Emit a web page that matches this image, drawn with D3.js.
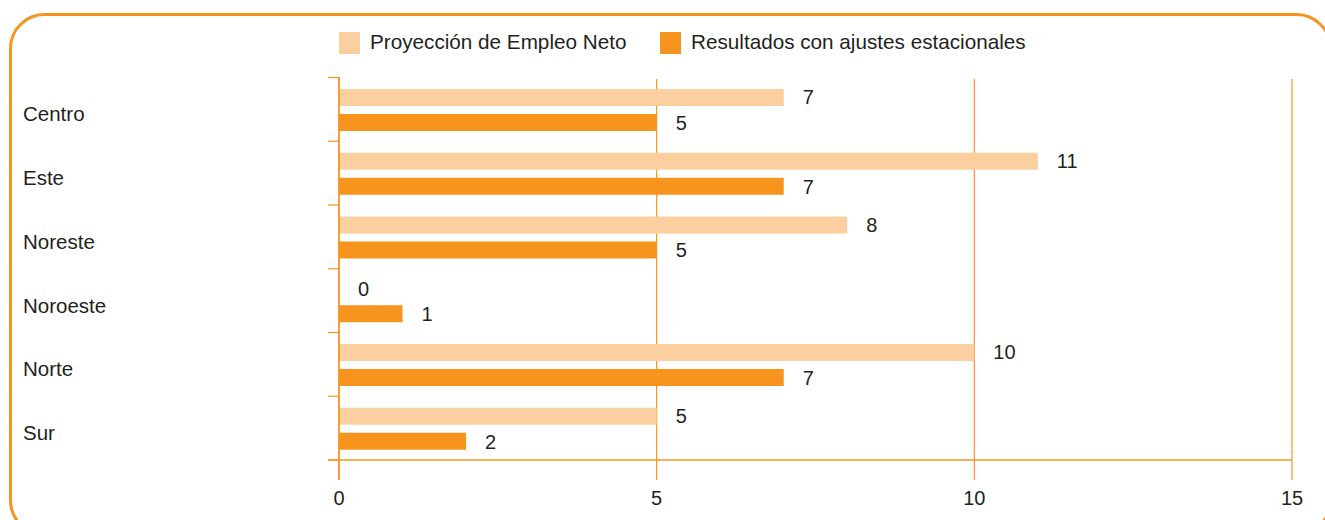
<!DOCTYPE html>
<html>
<head>
<meta charset="utf-8">
<script src="https://cdn.jsdelivr.net/npm/d3@7"></script>
<style>
  body { margin: 0; background: #fff; }
  text { font-family: "Liberation Sans", Arial, sans-serif; fill: #231f20; }
</style>
</head>
<body>
<div class="canvas"></div>
<script>
// data
const regions = ["Centro", "Este", "Noreste", "Noroeste", "Norte", "Sur"];
const proyeccion = [7, 11, 8, 0, 10, 5];
const ajustados = [5, 7, 5, 1, 7, 2];
const xTicks = [0, 5, 10, 15];
const legendLabels = ["Proyección de Empleo Neto", "Resultados con ajustes estacionales"];

const light = "#fbcf9f";
const dark = "#f7941e";

const W = 1325, H = 520;
const svg = d3.select(".canvas").append("svg")
    .attr("width", W)
    .attr("height", H);

// rounded frame
svg.append("rect")
    .attr("x", 10.5).attr("y", 14.5)
    .attr("width", 1320).attr("height", 520)
    .attr("rx", 34).attr("ry", 34)
    .attr("fill", "none")
    .attr("stroke", dark)
    .attr("stroke-width", 3);

const x = d3.scaleLinear().domain([0, 15]).range([339, 1292]);
const y = d3.scaleBand().domain(regions).range([77.5, 460]);

// grid lines at 5,10,15
svg.selectAll(".grid")
    .data(xTicks.slice(1))
    .join("line")
    .attr("x1", d => x(d)).attr("x2", d => x(d))
    .attr("y1", 79).attr("y2", 480)
    .attr("stroke", dark).attr("stroke-width", 1.2);

// y tick marks (band edges)
const edges = regions.map(r => y(r)).concat([y.range()[1]]);
svg.selectAll(".ytick")
    .data(edges)
    .join("line")
    .attr("x1", 328).attr("x2", 339)
    .attr("y1", d => d).attr("y2", d => d)
    .attr("stroke", dark).attr("stroke-width", 1.2);

const bh = 17;
// light bars
svg.selectAll(".bar1")
    .data(proyeccion)
    .join("rect")
    .attr("x", x(0))
    .attr("y", (d, i) => y(regions[i]) + 11.5)
    .attr("width", d => x(d) - x(0))
    .attr("height", bh)
    .attr("fill", light);

// dark bars
svg.selectAll(".bar2")
    .data(ajustados)
    .join("rect")
    .attr("x", x(0))
    .attr("y", (d, i) => y(regions[i]) + 36.5)
    .attr("width", d => x(d) - x(0))
    .attr("height", bh)
    .attr("fill", dark);

// axes lines
svg.append("line")
    .attr("x1", 328).attr("x2", x(15))
    .attr("y1", 460).attr("y2", 460)
    .attr("stroke", dark).attr("stroke-width", 1.5);
svg.append("line")
    .attr("x1", x(0)).attr("x2", x(0))
    .attr("y1", 77).attr("y2", 480)
    .attr("stroke", dark).attr("stroke-width", 1.8);

// value labels
svg.selectAll(".lab1")
    .data(proyeccion)
    .join("text")
    .attr("x", d => x(d) + 19)
    .attr("y", (d, i) => y(regions[i]) + 21.5)
    .attr("dominant-baseline", "middle")
    .style("font-size", "20px")
    .text(d => d);
svg.selectAll(".lab2")
    .data(ajustados)
    .join("text")
    .attr("x", d => x(d) + 19)
    .attr("y", (d, i) => y(regions[i]) + 47)
    .attr("dominant-baseline", "middle")
    .style("font-size", "20px")
    .text(d => d);

// category labels
svg.selectAll(".cat")
    .data(regions)
    .join("text")
    .attr("x", 23)
    .attr("y", d => y(d) + y.bandwidth() / 2 + 6.5)
    .attr("dominant-baseline", "middle")
    .style("font-size", "20.5px")
    .text(d => d);

// x tick labels
svg.selectAll(".xlab")
    .data(xTicks)
    .join("text")
    .attr("x", d => x(d))
    .attr("y", 500)
    .attr("text-anchor", "middle")
    .attr("dominant-baseline", "middle")
    .style("font-size", "20px")
    .text(d => d);

// legend
const legX = [339, 660];
const leg = svg.selectAll(".leg")
    .data(legendLabels)
    .join("g")
    .attr("transform", (d, i) => `translate(${legX[i]},32)`);
leg.append("rect")
    .attr("width", 21).attr("height", 22)
    .attr("fill", (d, i) => i === 0 ? light : dark);
leg.append("text")
    .attr("x", 31).attr("y", 12)
    .attr("dominant-baseline", "middle")
    .style("font-size", "20.7px")
    .text(d => d);
</script>
</body>
</html>
